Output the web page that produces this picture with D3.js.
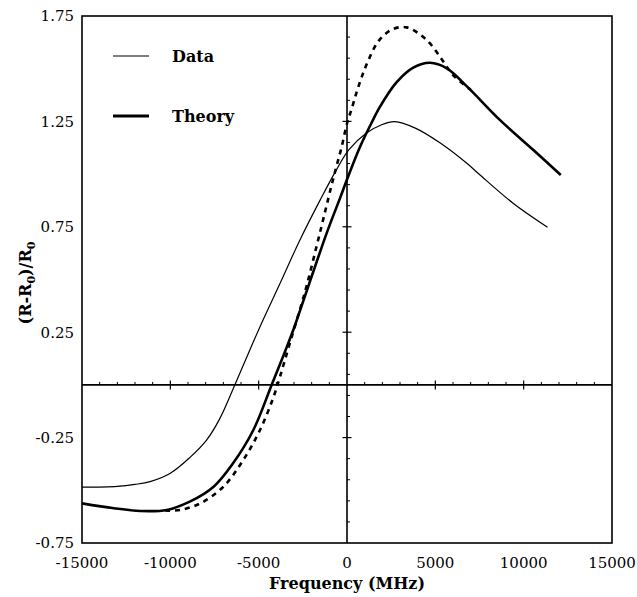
<!DOCTYPE html>
<html>
<head>
<meta charset="utf-8">
<script src="https://cdn.jsdelivr.net/npm/d3@7"></script>
<style>
  body { margin: 0; background: #fff; }
  svg { display: block; }
  text { font-family: "DejaVu Serif", "Liberation Serif", serif; fill: #000; }
</style>
</head>
<body>
<div id="chart"></div>
<script>
// values
const dataFreq = [-15000, -13000, -12000, -11150, -10000, -8900, -7950, -7200, -6350, -5500, -4740, -3800, -2650, -1500, -600, 100, 1100, 1900, 2700, 3900, 5300, 6800, 7500, 9400, 11350];
const dataVal = [-0.485, -0.481, -0.472, -0.459, -0.419, -0.345, -0.262, -0.160, 0.000, 0.166, 0.310, 0.480, 0.690, 0.880, 1.020, 1.115, 1.195, 1.232, 1.249, 1.217, 1.146, 1.050, 0.998, 0.862, 0.748];

const theoryFreq = [-15000, -13200, -11700, -10200, -8900, -7550, -6450, -5300, -4250, -3500, -3000, -2100, -1150, -400, 70, 740, 1400, 1870, 2800, 3750, 4700, 5650, 6800, 8650, 10550, 12100];
const theoryVal = [-0.562, -0.585, -0.598, -0.593, -0.554, -0.483, -0.372, -0.214, 0.003, 0.160, 0.270, 0.490, 0.720, 0.885, 0.990, 1.130, 1.245, 1.320, 1.435, 1.505, 1.528, 1.502, 1.415, 1.257, 1.114, 0.996];

const dashFreq = [-10300, -9450, -8300, -7000, -5870, -4925, -4170, -3790, -3230, -2380, -1715, -1245, -866, -584, -300, 0, 265, 550, 830, 1210, 1775, 2530, 3380, 4510, 5360, 6000, 7000];
const dashVal = [-0.596, -0.593, -0.562, -0.483, -0.356, -0.214, -0.060, 0.040, 0.200, 0.440, 0.660, 0.820, 0.950, 1.040, 1.130, 1.240, 1.310, 1.390, 1.460, 1.540, 1.630, 1.685, 1.696, 1.636, 1.545, 1.470, 1.400];

const xTicks = [-15000, -10000, -5000, 0, 5000, 10000, 15000];
const yTicks = [-0.75, -0.25, 0.25, 0.75, 1.25, 1.75];
const yTickLabels = ["-0.75", "-0.25", "0.25", "0.75", "1.25", "1.75"];
const legendLabels = ["Data", "Theory"];

const W = 637, H = 597;
const margin = { top: 16, right: 25, bottom: 54, left: 82 };

const svg = d3.select("#chart").append("svg")
    .attr("width", W)
    .attr("height", H);

const x = d3.scaleLinear()
    .domain([-15000, 15000])
    .range([margin.left, W - margin.right]);

const y = d3.scaleLinear()
    .domain([-0.75, 1.75])
    .range([H - margin.bottom, margin.top]);

// frame
svg.append("rect")
    .attr("x", x(-15000))
    .attr("y", y(1.75))
    .attr("width", x(15000) - x(-15000))
    .attr("height", y(-0.75) - y(1.75))
    .attr("fill", "none")
    .attr("stroke", "#000")
    .attr("stroke-width", 1.6);

// tick labels
svg.append("g")
    .selectAll("text")
    .data(xTicks)
    .join("text")
    .attr("x", d => x(d))
    .attr("y", y(-0.75) + 25)
    .attr("text-anchor", "middle")
    .style("font-size", "15px")
    .text(d => String(d));

svg.append("g")
    .selectAll("text")
    .data(yTicks)
    .join("text")
    .attr("x", x(-15000) - 8)
    .attr("y", d => y(d))
    .attr("dy", "0.36em")
    .attr("text-anchor", "end")
    .style("font-size", "15px")
    .text((d, i) => yTickLabels[i]);

// zero axes through the middle
svg.append("line")
    .attr("x1", x(-15000)).attr("x2", x(15000))
    .attr("y1", y(0)).attr("y2", y(0))
    .attr("stroke", "#000").attr("stroke-width", 1.6);

svg.append("line")
    .attr("x1", x(0)).attr("x2", x(0))
    .attr("y1", y(-0.75)).attr("y2", y(1.75))
    .attr("stroke", "#000").attr("stroke-width", 1.6);

// ticks on the horizontal zero line
const xMinor = d3.range(-14000, 15000, 1000).filter(d => d % 5000 !== 0);
const xMajor = xTicks.filter(d => d !== 0 && Math.abs(d) !== 15000);

svg.append("g")
    .selectAll("line")
    .data(xMinor)
    .join("line")
    .attr("x1", d => x(d)).attr("x2", d => x(d))
    .attr("y1", y(0)).attr("y2", y(0) - 3)
    .attr("stroke", "#000").attr("stroke-width", 1);

svg.append("g")
    .selectAll("line")
    .data(xMajor)
    .join("line")
    .attr("x1", d => x(d)).attr("x2", d => x(d))
    .attr("y1", y(0) - 4.5).attr("y2", y(0) + 4.5)
    .attr("stroke", "#000").attr("stroke-width", 1.2);

// ticks on the vertical zero line
const yMinor = d3.range(-0.65, 1.7, 0.1)
    .filter(d => !yTicks.some(t => Math.abs(t - d) < 1e-6));

svg.append("g")
    .selectAll("line")
    .data(yMinor)
    .join("line")
    .attr("x1", x(0)).attr("x2", x(0) + 3)
    .attr("y1", d => y(d)).attr("y2", d => y(d))
    .attr("stroke", "#000").attr("stroke-width", 1);

svg.append("g")
    .selectAll("line")
    .data(yTicks.filter(d => d > -0.75 && d < 1.75))
    .join("line")
    .attr("x1", x(0) - 4.5).attr("x2", x(0) + 4.5)
    .attr("y1", d => y(d)).attr("y2", d => y(d))
    .attr("stroke", "#000").attr("stroke-width", 1.2);

// curves
const line = d3.line()
    .x(d => x(d[0]))
    .y(d => y(d[1]))
    .curve(d3.curveCatmullRom.alpha(0.5));

svg.append("path")
    .datum(d3.zip(dashFreq, dashVal))
    .attr("d", line)
    .attr("fill", "none")
    .attr("stroke", "#000")
    .attr("stroke-width", 2.6)
    .attr("stroke-dasharray", "5,5");

svg.append("path")
    .datum(d3.zip(dataFreq, dataVal))
    .attr("d", line)
    .attr("fill", "none")
    .attr("stroke", "#000")
    .attr("stroke-width", 1.2);

svg.append("path")
    .datum(d3.zip(theoryFreq, theoryVal))
    .attr("d", line)
    .attr("fill", "none")
    .attr("stroke", "#000")
    .attr("stroke-width", 2.6);

// legend
const legend = svg.append("g");
legendLabels.forEach((label, i) => {
    const ly = 56 + i * 60;
    legend.append("line")
        .attr("x1", 113).attr("x2", 149)
        .attr("y1", ly).attr("y2", ly)
        .attr("stroke", "#000")
        .attr("stroke-width", i === 0 ? 1.2 : 2.8);
    legend.append("text")
        .attr("x", 172)
        .attr("y", ly + 6)
        .style("font-size", "16px")
        .style("font-weight", "bold")
        .text(label);
});

// axis titles
svg.append("text")
    .attr("x", x(0))
    .attr("y", 589)
    .attr("text-anchor", "middle")
    .style("font-size", "16px")
    .style("font-weight", "bold")
    .text("Frequency (MHz)");

const yTitle = svg.append("text")
    .attr("transform", `translate(31,${283}) rotate(-90)`)
    .attr("text-anchor", "middle")
    .style("font-size", "16px")
    .style("font-weight", "bold");
yTitle.append("tspan").text("(R-R");
yTitle.append("tspan").attr("dy", 4).style("font-size", "11px").text("0");
yTitle.append("tspan").attr("dy", -4).text(")/R");
yTitle.append("tspan").attr("dy", 4).style("font-size", "11px").text("0");
</script>
</body>
</html>
